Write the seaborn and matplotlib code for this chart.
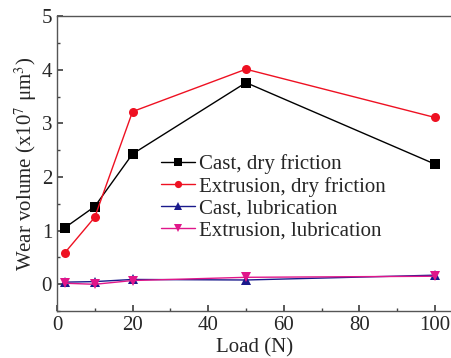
import matplotlib
matplotlib.use("Agg")
import matplotlib.pyplot as plt
import seaborn as sns
import pandas as pd
from matplotlib.ticker import MultipleLocator

sns.set_theme(style="ticks")
plt.rcParams['font.family'] = ['Liberation Serif', 'DejaVu Serif']
plt.rcParams['mathtext.fontset'] = 'stix'

load = [2, 10, 20, 50, 100]
cast_dry = [1.05, 1.45, 2.43, 3.76, 2.24]
extr_dry = [0.58, 1.25, 3.22, 4.01, 3.11]
cast_lub = [0.04, 0.05, 0.09, 0.08, 0.17]
extr_lub = [0.02, 0.00, 0.07, 0.13, 0.15]
series_names = ["Cast, dry friction", "Extrusion, dry friction",
                "Cast, lubrication", "Extrusion, lubrication"]

rows = []
for name, vals in zip(series_names, [cast_dry, extr_dry, cast_lub, extr_lub]):
    for x, v in zip(load, vals):
        rows.append({"Load": x, "Wear": v, "Series": name})
df = pd.DataFrame(rows)

colors = ["#000000", "#ee1122", "#1a1a8c", "#e0168a"]
markers = ["s", "o", "^", "v"]

fig = plt.figure(figsize=(4.52, 3.58), dpi=100)
ax = fig.add_axes([0.126, 0.131, 0.874, 0.824])

sns.lineplot(data=df, x="Load", y="Wear", hue="Series", style="Series",
             palette=colors, markers=markers, dashes=False, markersize=6.5,
             linewidth=1.0, markeredgewidth=0, ax=ax)

ax.set_xlim(0, 104.5)
ax.set_ylim(-0.5, 5)
ax.xaxis.set_major_locator(MultipleLocator(20))
ax.xaxis.set_minor_locator(MultipleLocator(10))
ax.yaxis.set_major_locator(MultipleLocator(1))
ax.yaxis.set_minor_locator(MultipleLocator(0.5))
ax.tick_params(which='both', direction='in', labelsize=15, color='#444444')
ax.tick_params(which='major', length=4)
ax.tick_params(which='minor', length=2)
ax.spines['right'].set_visible(False)
for s in ['left', 'top', 'bottom']:
    ax.spines[s].set_color('#555555')
    ax.spines[s].set_linewidth(1.0)

ax.set_xlabel("Load (N)", fontsize=15, labelpad=2)
ax.set_ylabel(r"Wear volume (x10$^7$ μm$^3$)", fontsize=15, labelpad=2)

leg = ax.legend(loc="upper left", bbox_to_anchor=(0.243, 0.56), frameon=False,
                fontsize=15, handlelength=1.6, handletextpad=0.2,
                labelspacing=0.12, borderaxespad=0, markerscale=0.8)

fig.savefig("out.png", dpi=100)
